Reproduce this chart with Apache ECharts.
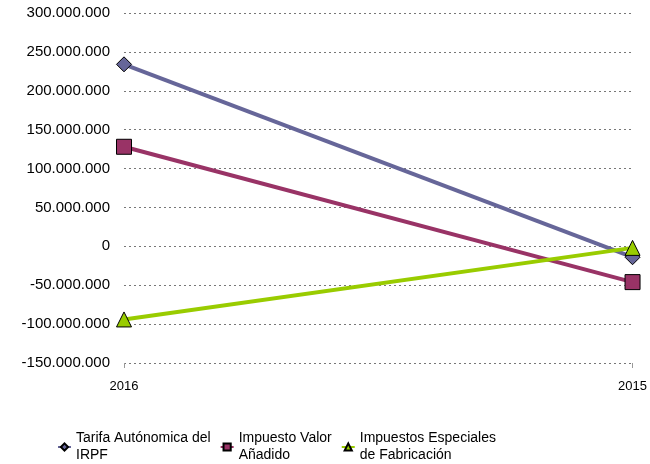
<!DOCTYPE html>
<html><head><meta charset="utf-8">
<script src="https://cdn.jsdelivr.net/npm/echarts@6/dist/echarts.min.js"></script>
<style>html,body{margin:0;padding:0;background:#fff}#c{width:650px;height:464px}</style>
</head><body><div id="c"></div>
<script>
const categories = ['2016', '2015'];
const tarifaIRPF = [234000000, -14000000];
const iva = [128000000, -46000000];
const especiales = [-94000000, -2000000];
const seriesNames = ['Tarifa Autónomica del\nIRPF', 'Impuesto Valor\nAñadido', 'Impuestos Especiales\nde Fabricación'];

function fmt(v){
  const neg = v < 0; let s = Math.abs(v).toString();
  s = s.replace(/\B(?=(\d{3})+(?!\d))/g, '.');
  return (neg ? '-' : '') + s;
}
const chart = echarts.init(document.getElementById('c'), null, {renderer:'canvas'});
const font = 'Liberation Sans, Arial, sans-serif';
function mk(name, data, color, symbol, size){
  return {name, type:'line', data, symbol, symbolSize:size, showSymbol:true,
    lineStyle:{color, width:4}, itemStyle:{color, borderColor:'#000', borderWidth:1},
    emphasis:{disabled:true}, z: 2};
}
chart.setOption({
  animation:false,
  grid:{left:124, right:15, top:13, bottom:101, containLabel:false},
  xAxis:{type:'category', data:categories, boundaryGap:false,
    axisLine:{show:false, onZero:false},
    axisTick:{show:true, alignWithLabel:true, length:5, lineStyle:{color:'#999'}},
    axisLabel:{color:'#000', fontFamily:font, fontSize:13, margin:17}},
  yAxis:{type:'value', min:-150000000, max:300000000, interval:50000000,
    axisLine:{show:false}, axisTick:{show:false},
    axisLabel:{color:'#000', fontFamily:font, fontSize:15, margin:14, formatter:fmt},
    splitLine:{lineStyle:{color:'#777', type:[2,3], width:1}}},
  legend:{top:430, left:57, padding:0, itemGap:9, itemWidth:13, itemHeight:9,
    textStyle:{fontFamily:font, fontSize:14, color:'#000', lineHeight:17},
    data:seriesNames},
  series:[
    mk(seriesNames[0], tarifaIRPF, '#666699', 'diamond', 15),
    mk(seriesNames[1], iva, '#993366', 'rect', 15),
    mk(seriesNames[2], especiales, '#99CC00', 'triangle', 15)
  ]
});
</script></body></html>
